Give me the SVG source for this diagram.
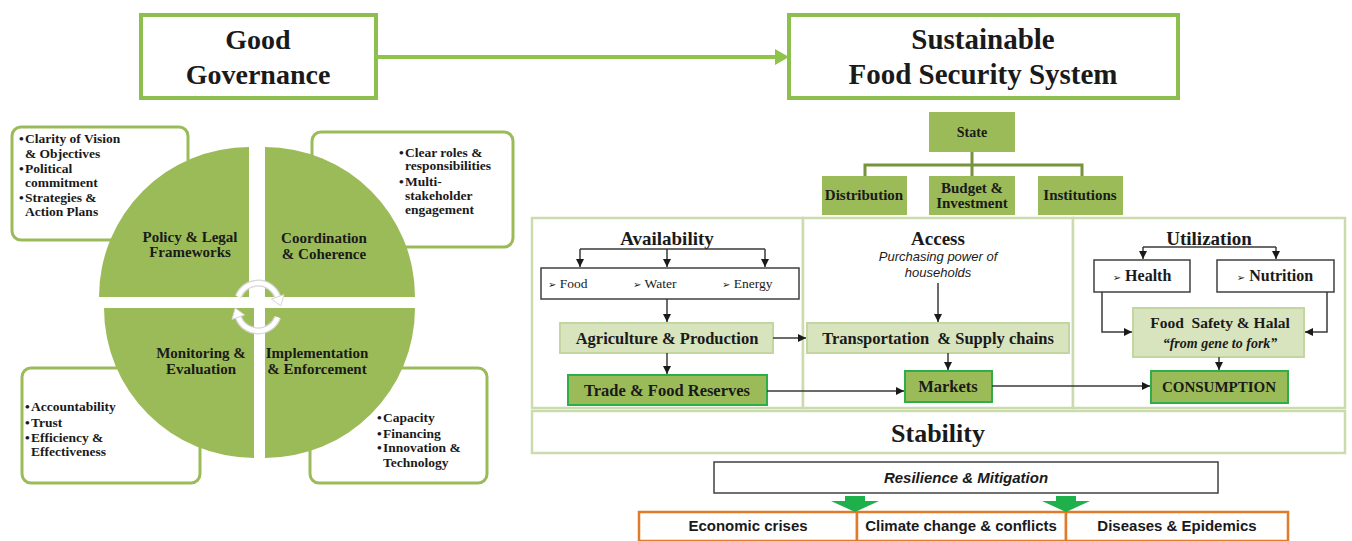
<svg xmlns="http://www.w3.org/2000/svg" width="1352" height="541" viewBox="0 0 1352 541">
<defs>
<style>
.serif{font-family:'Liberation Serif','Times New Roman',serif;font-weight:bold;fill:#1a1a1a}
.sans{font-family:'Liberation Sans',Arial,sans-serif;fill:#1a1a1a}
.c{text-anchor:middle}
.title{font-size:28px}
.quad{font-size:15px}
.bul{font-size:13.5px}
.lbl{font-size:16.5px}
.head{font-size:19px}
.gbox{fill:#fff;stroke:#9BBB59;stroke-width:3}
.tbox{fill:#fff;stroke:#8DBE50;stroke-width:4}
.pie{fill:#9BBB59}
.light{fill:#D7E4BD;stroke:#C3D5A0;stroke-width:2}
.dark{fill:#9BBB59;stroke:#2DAE4A;stroke-width:2}
.olive{fill:#9BBB59}
.frame{fill:#fff;stroke:#CCDBAE;stroke-width:2.5}
.wbox{fill:#fff;stroke:#404040;stroke-width:1.5}
.obox{fill:#fff;stroke:#E07B2A;stroke-width:2.5}
.con{fill:none;stroke:#3a3a3a;stroke-width:1.5}
.tree{fill:none;stroke:#77933C;stroke-width:3}
.arcO{fill:none;stroke:#d6d6d6;stroke-width:7}
.arcI{fill:none;stroke:#fff;stroke-width:4.5}
.arcH{fill:#fff;stroke:#d6d6d6;stroke-width:1}
</style>
<marker id="ah" markerUnits="userSpaceOnUse" markerWidth="9" markerHeight="8" refX="8" refY="4" orient="auto"><path d="M0,0 L8,4 L0,8 z" fill="#1a1a1a"/></marker>
</defs>

<!-- Top titles -->
<g id="good-governance">
<rect class="tbox" x="141" y="15" width="235" height="83"/>
<text class="serif title c" x="258" y="49">Good</text>
<text class="serif title c" x="258" y="84">Governance</text>
</g>
<g id="sustainable-fss">
<rect class="tbox" x="789" y="15" width="389" height="83"/>
<text class="serif c" font-size="29" x="983" y="49">Sustainable</text>
<text class="serif c" font-size="29" x="983" y="84">Food Security System</text>
</g>

<!-- Left: governance text boxes -->
<g id="box-policy">
<rect class="gbox" x="12" y="127" width="176" height="113" rx="9"/>
<g class="serif bul">
<text x="19" y="143">•</text><text x="25" y="143">Clarity of Vision</text>
<text x="25" y="158">&amp; Objectives</text>
<text x="19" y="173">•</text><text x="25" y="173">Political</text>
<text x="25" y="187">commitment</text>
<text x="19" y="202">•</text><text x="25" y="202">Strategies &amp;</text>
<text x="25" y="216">Action Plans</text>
</g>
</g>
<g id="box-coordination">
<rect class="gbox" x="312" y="132" width="201" height="115" rx="9"/>
<g class="serif bul">
<text x="399" y="157">•</text><text x="405" y="157">Clear roles &amp;</text>
<text x="405" y="170">responsibilities</text>
<text x="399" y="186">•</text><text x="405" y="186">Multi-</text>
<text x="405" y="200">stakeholder</text>
<text x="405" y="214">engagement</text>
</g>
</g>
<g id="box-monitoring">
<rect class="gbox" x="22" y="368" width="178" height="115" rx="9"/>
<g class="serif bul">
<text x="25" y="411">•</text><text x="31" y="411">Accountability</text>
<text x="25" y="427">•</text><text x="31" y="427">Trust</text>
<text x="25" y="442">•</text><text x="31" y="442">Efficiency &amp;</text>
<text x="31" y="456">Effectiveness</text>
</g>
</g>
<g id="box-implementation">
<rect class="gbox" x="310" y="368" width="177" height="115" rx="9"/>
<g class="serif bul">
<text x="377" y="422">•</text><text x="383" y="422">Capacity</text>
<text x="377" y="438">•</text><text x="383" y="438">Financing</text>
<text x="377" y="452">•</text><text x="383" y="452">Innovation &amp;</text>
<text x="383" y="467">Technology</text>
</g>
</g>

<!-- Pie -->
<g id="quad-policy">
<path class="pie" d="M249,297 L99,297 A150,150 0 0 1 249,147 Z"/>
<text class="serif quad c" x="190" y="242">Policy &amp; Legal</text>
<text class="serif quad c" x="190" y="257">Frameworks</text>
</g>
<g id="quad-coordination">
<path class="pie" d="M265,297 L265,147 A150,150 0 0 1 415,297 Z"/>
<text class="serif quad c" x="324" y="243">Coordination</text>
<text class="serif quad c" x="324" y="259">&amp; Coherence</text>
</g>
<g id="quad-monitoring">
<path class="pie" d="M254,308 L254,458 A150,150 0 0 1 104,308 Z"/>
<text class="serif quad c" x="201" y="358">Monitoring &amp;</text>
<text class="serif quad c" x="201" y="374">Evaluation</text>
</g>
<g id="quad-implementation">
<path class="pie" d="M265,308 L415,308 A150,150 0 0 1 265,458 Z"/>
<text class="serif quad c" x="317" y="358">Implementation</text>
<text class="serif quad c" x="317" y="374">&amp; Enforcement</text>
</g>
<g id="cycle-arrows">
<path class="arcO" d="M238.3,296.8 A21,21 0 0 1 277.7,296.8"/>
<path class="arcO" d="M277.7,317.2 A21,21 0 0 1 238.3,317.2"/>
<path class="arcI" d="M238.3,296.8 A21,21 0 0 1 277.7,296.8"/>
<path class="arcI" d="M277.7,317.2 A21,21 0 0 1 238.3,317.2"/>
<path class="arcH" d="M284,294.6 L271.4,299 L280.8,306 Z"/>
<path class="arcH" d="M232,319.4 L244.6,315 L235.2,308 Z"/>
</g>

<!-- Right: frames -->
<g id="frame-availability"><rect class="frame" x="532" y="218" width="271" height="190"/></g>
<g id="frame-access"><rect class="frame" x="803" y="218" width="270" height="190"/></g>
<g id="frame-utilization"><rect class="frame" x="1073" y="218" width="272" height="190"/></g>

<g id="state"><rect class="olive" x="929" y="112" width="86" height="40"/><text class="serif c" font-size="14" x="972" y="137">State</text></g>
<g id="distribution"><rect class="olive" x="822" y="176" width="85" height="39"/><text class="serif c" font-size="15" x="864" y="200">Distribution</text></g>
<g id="budget"><rect class="olive" x="929" y="176" width="86" height="39"/><text class="serif c" font-size="15" x="972" y="193">Budget &amp;</text><text class="serif c" font-size="15" x="972" y="208">Investment</text></g>
<g id="institutions"><rect class="olive" x="1038" y="176" width="85" height="39"/><text class="serif c" font-size="15" x="1080" y="200">Institutions</text></g>

<g id="availability-title"><text class="serif head c" x="667" y="245">Availability</text></g>
<g id="access-title"><text class="serif head c" x="938" y="245">Access</text>
<text class="sans c" font-style="italic" font-size="13" fill="#333" x="938" y="261">Purchasing power of</text>
<text class="sans c" font-style="italic" font-size="13" fill="#333" x="938" y="277">households</text></g>
<g id="utilization-title"><text class="serif head c" x="1209" y="245">Utilization</text></g>

<g id="food-water-energy">
<rect class="wbox" x="541" y="268" width="258" height="31"/>
<g font-family="'Liberation Serif',serif" font-size="13.5" fill="#1a1a1a">
<text x="548" y="288"><tspan font-family="'DejaVu Sans',sans-serif" font-size="10">➢</tspan>  Food</text>
<text x="633" y="288"><tspan font-family="'DejaVu Sans',sans-serif" font-size="10">➢</tspan>  Water</text>
<text x="722" y="288"><tspan font-family="'DejaVu Sans',sans-serif" font-size="10">➢</tspan>  Energy</text>
</g>
</g>
<g id="agriculture"><rect class="light" x="560" y="323" width="213" height="30"/><text class="serif lbl c" x="667" y="344">Agriculture &amp; Production</text></g>
<g id="trade"><rect class="dark" x="568" y="375" width="199" height="30"/><text class="serif lbl c" x="667" y="396">Trade &amp; Food Reserves</text></g>
<g id="transportation"><rect class="light" x="807" y="323" width="262" height="30"/><text class="serif lbl c" x="938" y="344" xml:space="preserve">Transportation  &amp; Supply chains</text></g>
<g id="markets"><rect class="dark" x="905" y="371" width="87" height="31"/><text class="serif lbl c" x="948" y="392">Markets</text></g>
<g id="health"><rect class="wbox" x="1094" y="260" width="96" height="32"/><text class="serif c" font-size="16" x="1142" y="281"><tspan font-family="'DejaVu Sans',sans-serif" font-size="10">➢</tspan> Health</text></g>
<g id="nutrition"><rect class="wbox" x="1217" y="260" width="117" height="32"/><text class="serif c" font-size="16" x="1275" y="281"><tspan font-family="'DejaVu Sans',sans-serif" font-size="10">➢</tspan> Nutrition</text></g>
<g id="food-safety"><rect class="light" x="1133" y="308" width="171" height="49"/>
<text class="serif c" font-size="15.5" x="1220" y="328" xml:space="preserve">Food  Safety &amp; Halal</text>
<text class="serif c" font-size="14" font-style="italic" x="1220" y="348">“from gene to fork”</text></g>
<g id="consumption"><rect class="dark" x="1151" y="371" width="137" height="32"/><text class="serif c" font-size="15" x="1219" y="392">CONSUMPTION</text></g>

<g id="stability"><rect class="frame" x="532" y="411" width="813" height="42"/><text class="serif c" font-size="26" x="938" y="442">Stability</text></g>

<g id="resilience"><rect class="wbox" x="714" y="462" width="504" height="31"/><text class="sans c" font-weight="bold" font-style="italic" font-size="15" x="966" y="483">Resilience &amp; Mitigation</text></g>
<g id="economic"><rect class="obox" x="639" y="512" width="218" height="29"/><text class="sans c" font-weight="bold" font-size="15" x="748" y="531">Economic crises</text></g>
<g id="climate"><rect class="obox" x="857" y="512" width="209" height="29"/><text class="sans c" font-weight="bold" font-size="15" x="961" y="531">Climate change &amp; conflicts</text></g>
<g id="diseases"><rect class="obox" x="1066" y="512" width="222" height="29"/><text class="sans c" font-weight="bold" font-size="15" x="1177" y="531">Diseases &amp; Epidemics</text></g>

<!-- Connectors -->
<g id="connectors">
<line x1="376" y1="57" x2="776" y2="57" stroke="#8DC449" stroke-width="4"/>
<path d="M775,49 L789,57 L775,65 Z" fill="#8DC449"/>
<path class="tree" d="M972,152 L972,176 M865,176 L865,165 L1082,165 L1082,176"/>
<path class="con" d="M580,249 L765,249"/>
<path class="con" d="M580,249 L580,267" marker-end="url(#ah)"/>
<path class="con" d="M667,249 L667,267" marker-end="url(#ah)"/>
<path class="con" d="M765,249 L765,267" marker-end="url(#ah)"/>
<path class="con" d="M667,299 L667,322" marker-end="url(#ah)"/>
<path class="con" d="M667,353 L667,374" marker-end="url(#ah)"/>
<path class="con" d="M773,338 L806,338" marker-end="url(#ah)"/>
<path class="con" d="M767,391 L904,391" marker-end="url(#ah)"/>
<path class="con" d="M938,283 L938,322" marker-end="url(#ah)"/>
<path class="con" d="M948,353 L948,370" marker-end="url(#ah)"/>
<path class="con" d="M992,386 L1150,386" marker-end="url(#ah)"/>
<path class="con" d="M1143,247 L1276,247"/>
<path class="con" d="M1143,247 L1143,259" marker-end="url(#ah)"/>
<path class="con" d="M1276,247 L1276,259" marker-end="url(#ah)"/>
<path class="con" d="M1102,292 L1102,332 L1132,332" marker-end="url(#ah)"/>
<path class="con" d="M1327,292 L1327,332 L1305,332" marker-end="url(#ah)"/>
<path class="con" d="M1219,357 L1219,370" marker-end="url(#ah)"/>
<path d="M845,496 L865,496 L865,501 L879,501 L855,512 L831,501 L845,501 Z" fill="#1DB04B"/>
<path d="M1056,496 L1076,496 L1076,501 L1090,501 L1066,512 L1042,501 L1056,501 Z" fill="#1DB04B"/>
</g>
</svg>
